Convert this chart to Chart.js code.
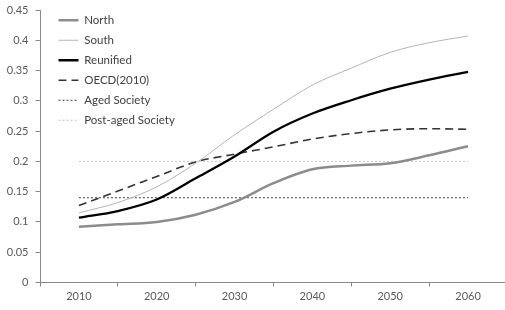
<!DOCTYPE html>
<html>
<head>
<meta charset="UTF-8" />
<script src="https://cdn.jsdelivr.net/npm/chart.js"></script>
<style>
  body { margin: 0; padding: 0; background: #fff; }
  .chart-container { position: relative; width: 505px; height: 310px; }
</style>
</head>
<body>
<div class="chart-container">
  <canvas id="ratioChart"></canvas>
</div>
<script>
  // values, every 5 years
  const years = [2010, 2015, 2020, 2025, 2030, 2035, 2040, 2045, 2050, 2055, 2060];
  const north = [0.092, 0.096, 0.100, 0.112, 0.133, 0.164, 0.187, 0.193, 0.197, 0.210, 0.225];
  const south = [0.115, 0.132, 0.158, 0.197, 0.244, 0.286, 0.326, 0.354, 0.380, 0.396, 0.407];
  const reunified = [0.107, 0.118, 0.137, 0.172, 0.208, 0.249, 0.279, 0.301, 0.320, 0.335, 0.348];
  const oecd = [0.127, 0.151, 0.175, 0.199, 0.212, 0.224, 0.237, 0.246, 0.252, 0.254, 0.253];
  const aged = [0.14, 0.14, 0.14, 0.14, 0.14, 0.14, 0.14, 0.14, 0.14, 0.14, 0.14];
  const postAged = [0.2, 0.2, 0.2, 0.2, 0.2, 0.2, 0.2, 0.2, 0.2, 0.2, 0.2];

  const pts = (vals) => years.map((y, i) => ({ x: y, y: vals[i] }));

  const line = (label, vals, color, width, dash) => ({
    label: label,
    data: pts(vals),
    borderColor: color,
    backgroundColor: 'transparent',
    borderWidth: width,
    borderDash: dash || [],
    pointRadius: 0,
    cubicInterpolationMode: 'monotone',
  });

  const axisColor = '#8a8a8a';
  const textColor = '#595959';

  // put the legend inside the plot, top left
  const legendSpot = {
    id: 'legendSpot',
    beforeDraw(chart) {
      chart.legend.left = 50;
      chart.legend.top = 6;
    }
  };

  new Chart(document.getElementById('ratioChart'), {
    type: 'line',
    data: {
      datasets: [
        line('North', north, '#8c8c8c', 2.5),
        line('South', south, '#b4b4b4', 1),
        line('Reunified', reunified, '#000000', 2.3),
        line('OECD(2010)', oecd, '#333333', 1.6, [8, 5]),
        line('Aged Society', aged, '#404040', 1, [2, 2]),
        line('Post-aged Society', postAged, '#c4c4c4', 1, [2, 2]),
      ]
    },
    options: {
      responsive: true,
      maintainAspectRatio: false,
      animation: false,
      layout: { padding: { top: 0, right: 0, bottom: 4.3, left: 0 } },
      plugins: {
        tooltip: { enabled: false },
        legend: {
          position: 'chartArea',
          align: 'start',
          labels: {
            usePointStyle: true,
            pointStyle: 'line',
            pointStyleWidth: 20,
            padding: 8.5,
            color: '#404040',
            font: { family: 'Lato', size: 11.5 },
            generateLabels(chart) {
              const items = Chart.defaults.plugins.legend.labels.generateLabels(chart);
              items.forEach((it, i) => {
                const ds = chart.data.datasets[i];
                it.lineDash = ds.borderDash;
                it.lineWidth = ds.borderWidth;
                it.strokeStyle = ds.borderColor;
              });
              return items;
            }
          }
        }
      },
      scales: {
        x: {
          type: 'linear',
          min: 2005,
          max: 2064.75,
          border: { color: axisColor, width: 1 },
          grid: {
            drawOnChartArea: false,
            tickLength: 4,
            tickColor: (ctx) => (ctx.tick && ctx.tick.value % 10 === 5) ? axisColor : 'transparent',
          },
          ticks: {
            stepSize: 5,
            includeBounds: false,
            autoSkip: false,
            maxRotation: 0,
            padding: 3,
            color: textColor,
            font: { family: 'Lato', size: 11 },
            callback: (v) => (v % 10 === 0 ? String(v) : ''),
          }
        },
        y: {
          min: 0,
          max: 0.45,
          border: { color: axisColor, width: 1 },
          grid: { drawOnChartArea: false, tickLength: 4.5, tickColor: axisColor },
          ticks: {
            stepSize: 0.05,
            padding: 7,
            color: textColor,
            font: { family: 'Lato', size: 11 },
            callback: (v) => String(+v.toFixed(2)),
          },
          afterFit(scale) {
            scale.width = 40;
            scale.paddingTop = 10;
          }
        }
      }
    },
    plugins: [legendSpot]
  });
</script>
</body>
</html>
